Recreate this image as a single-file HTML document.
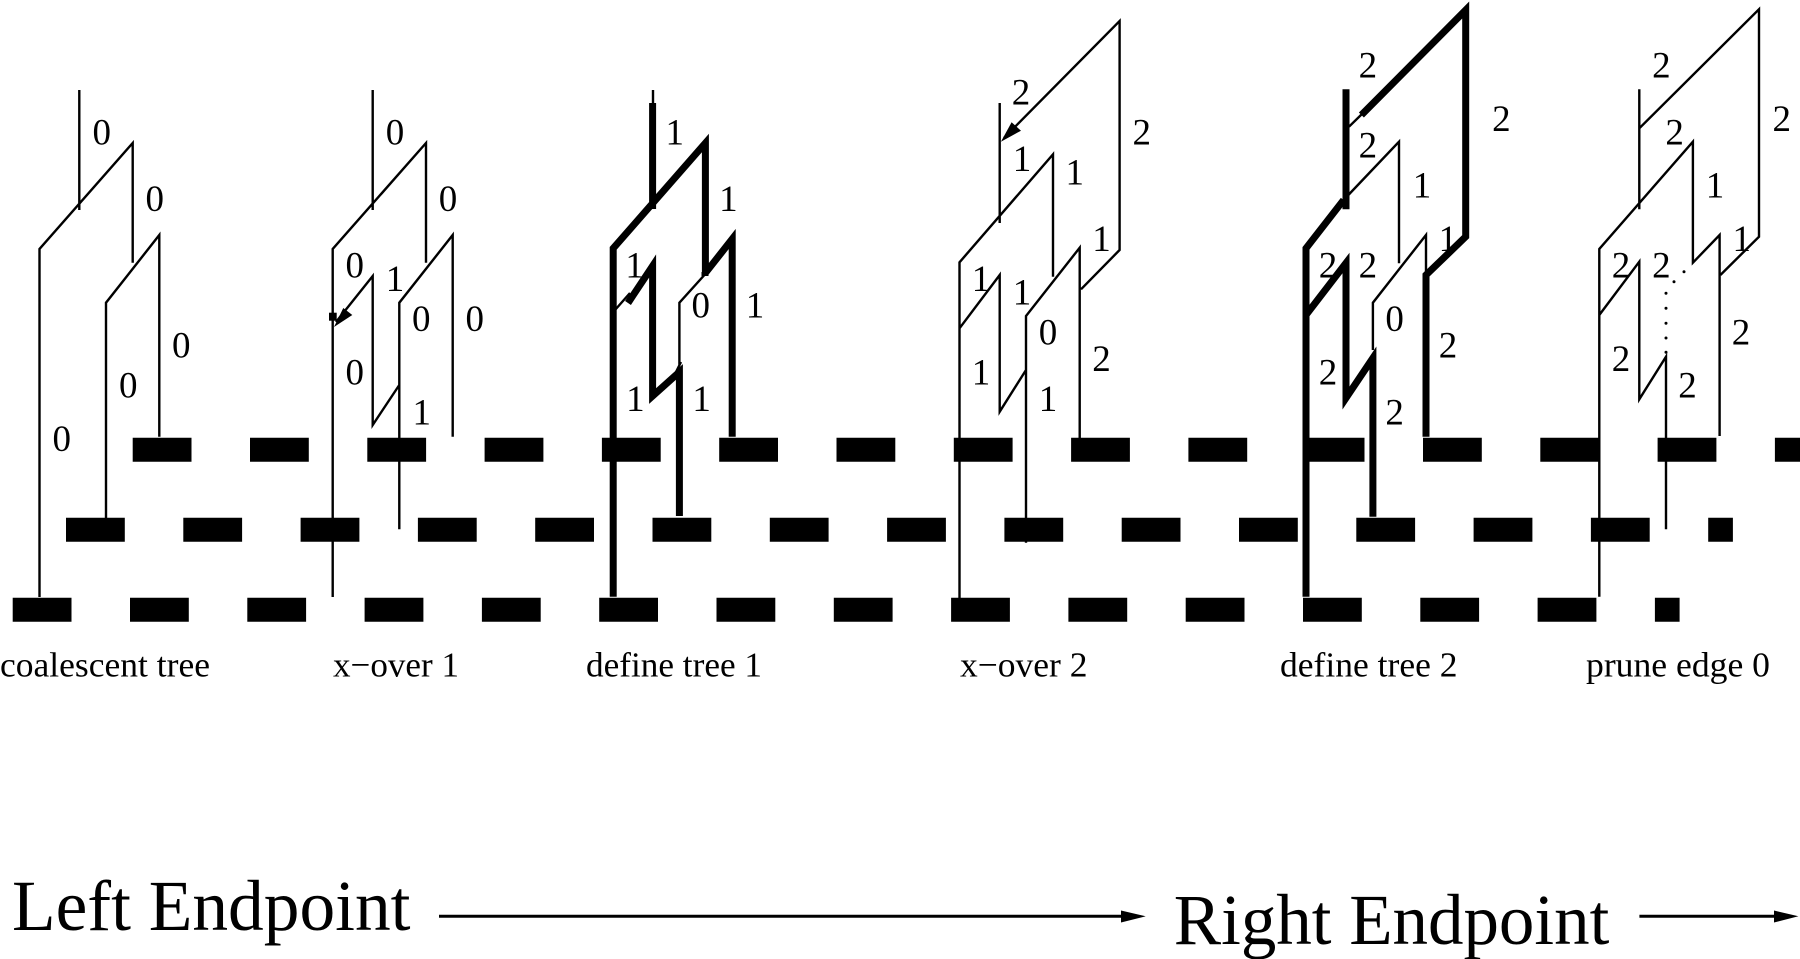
<!DOCTYPE html>
<html><head><meta charset="utf-8"><style>
html,body{margin:0;padding:0;background:#fff;width:1800px;height:959px;overflow:hidden}
svg{display:block}
text{font-family:"Liberation Serif",serif;fill:#000}
.n{font-size:37px;text-anchor:middle}
.c{font-size:35px}
.b{font-size:72px}
.t{fill:none;stroke:#000;stroke-width:2.4;stroke-linejoin:miter}
.k{fill:none;stroke:#000;stroke-width:7;stroke-linejoin:miter;stroke-miterlimit:6}
.d{stroke:#000;stroke-width:24;stroke-dasharray:58.8 58.5;fill:none}
</style></head><body>
<svg width="1800" height="959" viewBox="0 0 1800 959" xmlns="http://www.w3.org/2000/svg">
<rect width="1800" height="959" fill="#fff"/>
<line class="d" x1="132.7" y1="449.7" x2="1800" y2="449.7"/>
<line class="d" x1="66" y1="529.7" x2="1732.9" y2="529.7"/>
<line class="d" x1="12.7" y1="609.7" x2="1679.6" y2="609.7"/>

<!-- tree 1 -->
<path class="t" d="M79.3 90V210M39.5 597V249L132.7 143V262.7M106 518V302.7L159.3 235V436.7"/>
<g class="n">
<text x="101.7" y="144.4">0</text><text x="154.7" y="211">0</text><text x="181.3" y="357.7">0</text><text x="128.3" y="397.7">0</text><text x="61.7" y="451">0</text>
</g>

<!-- tree 2 -->
<path class="t" d="M372.7 90V210M332.7 597V249L426 143V262.7M399.3 529.3V302.7L452.7 235V436.7M336 322L372.7 276V425L399.3 385"/>
<rect x="329" y="312.7" width="7.7" height="8"/>
<polygon points="334,327 343.3,308 352.3,315"/>
<g class="n">
<text x="395" y="144.4">0</text><text x="448" y="211">0</text><text x="354.7" y="277.7">0</text><text x="395" y="291">1</text><text x="421.3" y="331">0</text><text x="474.7" y="331">0</text><text x="354.7" y="384.4">0</text><text x="421.7" y="424.4">1</text>
</g>

<!-- tree 3 -->
<path class="t" d="M653 90V105M679.4 365V302.7L706.2 273M615 310L630 293M676 372L681 362"/>
<path class="k" d="M652.6 103V209M613.2 596.7V248.3L705.4 143V273M705.4 273L732.2 239V436.7M628 303L652.6 266V396L679.4 372V516M705 272V276"/>
<g class="n">
<text x="674.8" y="144.4">1</text><text x="728.4" y="211">1</text><text x="634.6" y="277.7">1</text><text x="700.8" y="317.7">0</text><text x="755" y="317.7">1</text><text x="635.4" y="411">1</text><text x="701.6" y="411">1</text>
</g>

<!-- tree 4 -->
<path class="t" d="M1004 138L1119.6 21V250L1081 289.3M999.7 103V223M959.5 598V262.3L1053 154.3V276.7M1026 542.7V316L1079.7 247.7V438M959.5 328.3L999.7 275V411.7L1026 370"/>
<polygon points="1000.9,141.7 1011.6,122.3 1021,130.7"/>
<g class="n">
<text x="1021" y="104.4">2</text><text x="1141.7" y="144.4">2</text><text x="1022" y="171">1</text><text x="1074.7" y="184.4">1</text><text x="1101.5" y="251">1</text><text x="981" y="291">1</text><text x="1022" y="304.4">1</text><text x="1048" y="344.4">0</text><text x="1101.5" y="371">2</text><text x="981" y="384.4">1</text><text x="1048" y="411">1</text>
</g>

<!-- tree 5 -->
<path class="t" d="M1349 126.7L1362 114M1399 263.3V141.7L1343.6 200M1372.9 350V302.7L1426 235V275"/>
<path class="k" d="M1361.4 115L1465.7 10V236.7L1426 275V436.7M1346 89.3V209.3M1343.6 200L1306 248.3V596.7M1306 315L1346 263V398L1372.9 358V516.7"/>
<g class="n">
<text x="1367.9" y="77.7">2</text><text x="1501.4" y="131">2</text><text x="1367.9" y="157.7">2</text><text x="1422" y="197.7">1</text><text x="1447.9" y="251">1</text><text x="1328" y="277.7">2</text><text x="1367.9" y="277.7">2</text><text x="1394.6" y="331">0</text><text x="1448" y="357.7">2</text><text x="1328" y="384.4">2</text><text x="1394.6" y="424.4">2</text>
</g>

<!-- tree 6 -->
<path class="t" d="M1639.3 128.3L1759 9.3V236.7L1720.4 275M1719.6 436V235L1692.9 262.7V141.7L1599.3 249V596.7M1639.3 89.3V209.3M1599.3 315L1639.3 261.7V399.3L1666 356.7V529.3"/>
<g fill="#000">
<circle cx="1684" cy="271.7" r="1.5"/><circle cx="1674" cy="281.7" r="1.5"/><circle cx="1666" cy="293.3" r="1.5"/><circle cx="1666" cy="308.3" r="1.5"/><circle cx="1666" cy="323.3" r="1.5"/><circle cx="1666" cy="338" r="1.5"/><circle cx="1666" cy="352.3" r="1.5"/>
</g>
<g class="n">
<text x="1661.4" y="77.7">2</text><text x="1781.8" y="131">2</text><text x="1674.6" y="144.4">2</text><text x="1715" y="197.7">1</text><text x="1741.8" y="251">1</text><text x="1621" y="277.7">2</text><text x="1661.4" y="277.7">2</text><text x="1741" y="344.4">2</text><text x="1621" y="371">2</text><text x="1687.5" y="397.7">2</text>
</g>

<!-- captions -->
<text class="c" x="0" y="676.7" textLength="210" lengthAdjust="spacingAndGlyphs">coalescent tree</text>
<text class="c" x="333" y="676.7" textLength="126" lengthAdjust="spacingAndGlyphs">x−over 1</text>
<text class="c" x="586" y="676.7" textLength="176" lengthAdjust="spacingAndGlyphs">define tree 1</text>
<text class="c" x="960" y="676.7" textLength="127.5" lengthAdjust="spacingAndGlyphs">x−over 2</text>
<text class="c" x="1280" y="676.7" textLength="177.5" lengthAdjust="spacingAndGlyphs">define tree 2</text>
<text class="c" x="1586" y="676.7" textLength="184" lengthAdjust="spacingAndGlyphs">prune edge 0</text>

<text class="b" x="12" y="930" textLength="398.5" lengthAdjust="spacingAndGlyphs">Left Endpoint</text>
<text class="b" x="1173.8" y="944" textLength="435.5" lengthAdjust="spacingAndGlyphs">Right Endpoint</text>

<line x1="439" y1="916.3" x2="1124" y2="916.3" stroke="#000" stroke-width="3"/>
<polygon points="1121,910.5 1145.7,916.3 1121,922.5"/>
<line x1="1639.4" y1="916.3" x2="1776" y2="916.3" stroke="#000" stroke-width="3"/>
<polygon points="1774,910.5 1798.4,916.3 1774,922.5"/>
</svg>
</body></html>
